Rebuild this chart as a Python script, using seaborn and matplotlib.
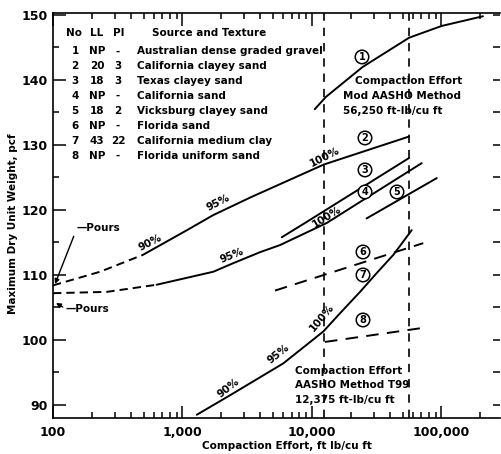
import matplotlib
matplotlib.use("Agg")
import matplotlib.pyplot as plt
from matplotlib.ticker import LogLocator, NullFormatter, MultipleLocator
import seaborn as sns

# ---------------- data ----------------
c1_effort = [10500, 12820, 24600, 56250, 100000, 209000]
c1_weight = [135.5, 137.4, 142.0, 146.5, 148.3, 149.8]

c2_dash_effort = [100, 231, 495]
c2_dash_weight = [108.4, 110.5, 113.1]
c2_effort = [495, 1084, 1722, 3320, 12375, 56250]
c2_weight = [113.1, 116.9, 119.2, 121.9, 127.0, 131.3]

c3_effort = [5840, 8830, 56250]
c3_weight = [115.8, 118.0, 128.0]

c4_dash_effort = [100, 260, 632]
c4_dash_weight = [107.2, 107.4, 108.5]
c4_effort = [632, 1730, 2455, 3960, 5660, 13000, 25600, 70300]
c4_weight = [108.5, 110.5, 111.8, 113.5, 114.6, 118.0, 121.7, 127.2]

c5_effort = [26400, 91900]
c5_weight = [118.7, 124.9]

c67_effort = [5180, 72300]
c67_weight = [107.6, 114.9]

c8_effort = [12600, 68300]
c8_weight = [99.7, 101.8]

t99_effort = [1290, 2330, 6000, 12220, 16440, 23490, 31620, 42500, 58900]
t99_weight = [88.5, 91.5, 96.4, 101.3, 104.1, 107.4, 110.3, 113.1, 116.9]

method_efforts = [12375, 56250]

soil_no = ["1", "2", "3", "4", "5", "6", "7", "8"]
soil_ll = ["NP", "20", "18", "NP", "18", "NP", "43", "NP"]
soil_pi = ["-", "3", "3", "-", "2", "-", "22", "-"]
soil_src = ["Australian dense graded gravel", "California clayey sand",
            "Texas clayey sand", "California sand", "Vicksburg clayey sand",
            "Florida sand", "California medium clay", "Florida uniform sand"]

x_ticks = [100, 1000, 10000, 100000]
x_ticklabels = ["100", "1,000", "10,000", "100,000"]
y_ticks = [90, 100, 110, 120, 130, 140, 150]

# ---------------- style ----------------
sns.set_style("ticks")
plt.rcParams["font.family"] = ["DejaVu Sans"]
plt.rcParams["font.weight"] = "bold"
plt.rcParams["text.color"] = "black"
plt.rcParams["axes.labelcolor"] = "black"
plt.rcParams["axes.labelweight"] = "bold"
plt.rcParams["xtick.color"] = "black"
plt.rcParams["ytick.color"] = "black"
plt.rcParams["lines.scale_dashes"] = False

fig = plt.figure(figsize=(5.02, 4.54), dpi=100)
ax = fig.add_axes([53 / 502, 36 / 454, 447 / 502, 405 / 454])
ax.set_xscale("log")
ax.set_xlim(100, 283000)
ax.set_ylim(88, 150.3)


def X(px):
    return 10 ** (2 + (px - 53) / 129.5)


def Y(py):
    return 150 - (py - 15) / 6.5


LW = 1.4
solid = dict(color="black", lw=LW, estimator=None, sort=False, ax=ax)
short_dash = (0, (6, 3.6))
long_dash = (0, (9, 6))

sns.lineplot(x=c1_effort, y=c1_weight, **solid)
sns.lineplot(x=c2_dash_effort, y=c2_dash_weight, linestyle=short_dash, **solid)
sns.lineplot(x=c2_effort, y=c2_weight, **solid)
sns.lineplot(x=c3_effort, y=c3_weight, **solid)
sns.lineplot(x=c4_dash_effort, y=c4_dash_weight, linestyle=short_dash, **solid)
sns.lineplot(x=c4_effort, y=c4_weight, **solid)
sns.lineplot(x=c5_effort, y=c5_weight, **solid)
sns.lineplot(x=c67_effort, y=c67_weight, linestyle=long_dash, **solid)
sns.lineplot(x=c8_effort, y=c8_weight, linestyle=long_dash, **solid)
sns.lineplot(x=t99_effort, y=t99_weight, **solid)

for e in method_efforts:
    ax.axvline(e, color="black", lw=1.2, linestyle=(0, (6, 5)))

# ---------------- axes / ticks ----------------
ax.set_xticks(x_ticks, labels=x_ticklabels)
ax.xaxis.set_minor_locator(LogLocator(base=10, subs=range(2, 10)))
ax.xaxis.set_minor_formatter(NullFormatter())
ax.set_yticks(y_ticks)
ax.yaxis.set_minor_locator(MultipleLocator(5))
ax.tick_params(which="major", direction="in", length=9, width=1.1,
               top=True, labelsize=9, pad=4, colors="black")
ax.tick_params(which="minor", direction="in", length=4.5, width=1.1, top=True)
ax.tick_params(axis="x", which="major", pad=6)
for lab in ax.get_xticklabels() + ax.get_yticklabels():
    lab.set_fontweight("bold")
for s in ["left", "bottom", "top"]:
    ax.spines[s].set_linewidth(1.2)
    ax.spines[s].set_color("black")
ax.spines["right"].set_visible(False)

ax2 = ax.twinx()
ax2.set_ylim(ax.get_ylim())
ax2.set_yticks(list(range(90, 151, 5)))
ax2.set_yticklabels([])
ax2.tick_params(direction="in", length=5, width=1.1, colors="black")
for s in ax2.spines.values():
    s.set_visible(False)

ax.set_xlabel("Compaction Effort, ft lb/cu ft", fontsize=7.5, fontweight="bold")
ax.set_ylabel("Maximum Dry Unit Weight, pcf", fontsize=7.5, fontweight="bold")
ax.xaxis.set_label_coords(0.523, -0.058)
ax.yaxis.set_label_coords(-0.078, 0.48)

# ---------------- legend table ----------------
fs = 7.5
kw = dict(va="center", fontsize=fs, fontweight="bold")
ax.text(X(74.5), Y(33), "No", ha="center", **kw)
ax.text(X(96.5), Y(33), "LL", ha="center", **kw)
ax.text(X(118.5), Y(33), "PI", ha="center", **kw)
ax.text(X(152), Y(33), "Source and Texture", ha="left", **kw)
for i in range(len(soil_no)):
    py = 51.5 + 14.9 * i
    ax.text(X(75), Y(py), soil_no[i], ha="center", **kw)
    ax.text(X(97), Y(py), soil_ll[i], ha="center", **kw)
    ax.text(X(118), Y(py), soil_pi[i], ha="center", **kw)
    ax.text(X(137), Y(py), soil_src[i], ha="left", **kw)

# ---------------- method annotations ----------------
ax.text(X(355), Y(81), "Compaction Effort", ha="left", **kw)
ax.text(X(343), Y(96), "Mod AASHO Method", ha="left", **kw)
ax.text(X(343), Y(111), "56,250 ft-lb/cu ft", ha="left", **kw)

ax.text(X(295), Y(371), "Compaction Effort", ha="left", **kw)
ax.text(X(295), Y(385), "AASHO Method T99", ha="left", **kw)
ax.text(X(295), Y(400), "12,375 ft-lb/cu ft", ha="left", **kw)

# circled soil numbers
circ = [(362, 57), (365, 138), (365, 170), (365, 192), (397, 192),
        (363, 252), (363, 275), (363, 320)]
for i, (px, py) in enumerate(circ):
    ax.text(X(px), Y(py), soil_no[i], ha="center", va="center", fontsize=7,
            fontweight="bold",
            bbox=dict(boxstyle="circle,pad=0.18", fc="white", ec="black", lw=1.1))

# percentage labels
pct = [("90%", 150, 243, 27), ("95%", 218, 203, 27), ("100%", 325, 157, 27),
       ("95%", 232, 256, 22), ("100%", 327, 217, 32),
       ("90%", 228, 388, 38), ("95%", 278, 354, 38), ("100%", 322, 318, 50)]
for t, px, py, rot in pct:
    ax.text(X(px), Y(py), t, ha="center", rotation=rot,
            rotation_mode="anchor", **kw)

# Pours
ax.annotate("\u2014Pours", xy=(X(55), Y(284)), xytext=(X(77), Y(228)),
            ha="left", **kw,
            arrowprops=dict(arrowstyle="-|>", color="black", lw=1.0,
                            shrinkA=0, shrinkB=0, relpos=(0, 0.5),
                            mutation_scale=7))
ax.annotate("\u2014Pours", xy=(X(56), Y(303)), xytext=(X(66), Y(309)),
            ha="left", **kw,
            arrowprops=dict(arrowstyle="-|>", color="black", lw=1.0,
                            shrinkA=0, shrinkB=0, relpos=(0, 0.5),
                            mutation_scale=7))

fig.savefig("out.png", dpi=100)
